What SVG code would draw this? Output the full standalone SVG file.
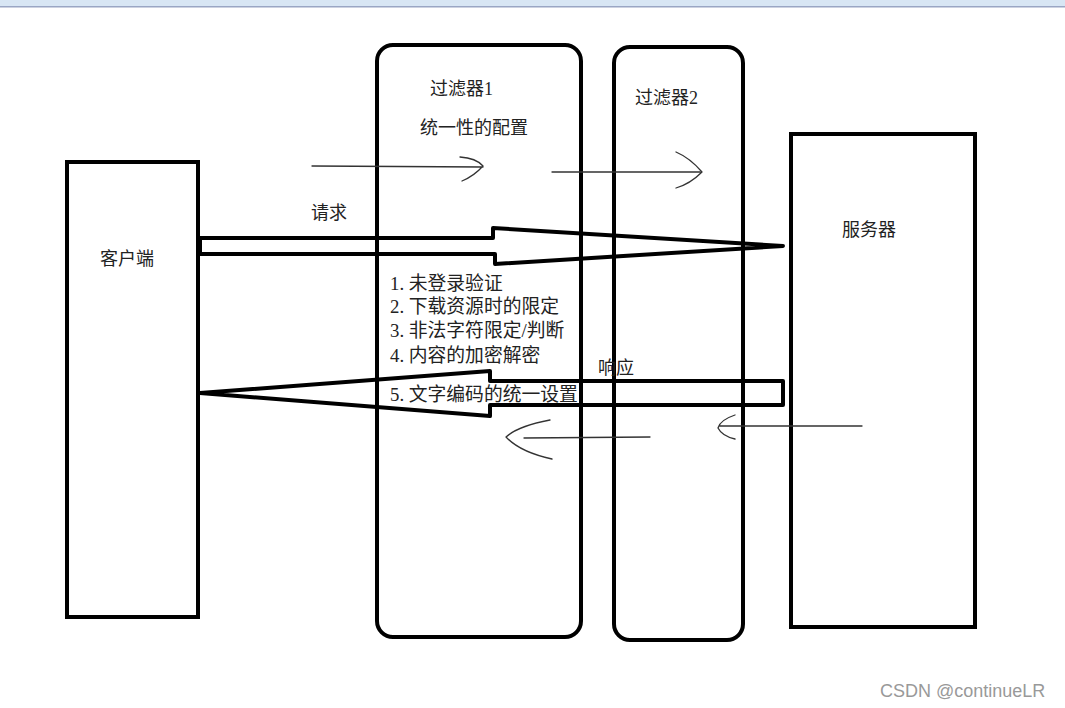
<svg xmlns="http://www.w3.org/2000/svg" width="1065" height="708" viewBox="0 0 1065 708">
<style>
.box{fill:none;stroke:#000;stroke-width:4}
.big{fill:none;stroke:#000;stroke-width:4;stroke-linejoin:round}
.thin{fill:none;stroke:#333;stroke-width:1.3;stroke-linecap:round;stroke-linejoin:round}
.t{font-family:"Liberation Serif","Noto Sans CJK SC",serif;font-size:18px;fill:#222}
.l{font-size:18.8px}
.wm{font-family:"Liberation Sans","Noto Sans",sans-serif;font-size:18px;fill:#999}
</style>
<rect x="0" y="0" width="1065" height="6" fill="#d8e6f4"/>
<rect x="0" y="6" width="1065" height="1.5" fill="#9aa6c4"/>
<g id="client"><rect class="box" x="67" y="162" width="131" height="455"/><text class="t" x="100" y="265">客户端</text></g>
<g id="filter1"><rect class="box" x="377" y="45" width="204" height="592" rx="16"/><text class="t" x="430" y="95">过滤器1</text><text class="t" x="420" y="134">统一性的配置</text>
<text class="t l" x="390" y="290">1. 未登录验证</text><text class="t l" x="390" y="313">2. 下载资源时的限定</text><text class="t l" x="390" y="337">3. 非法字符限定/判断</text><text class="t l" x="390" y="362">4. 内容的加密解密</text></g>
<g id="filter2"><rect class="box" x="614" y="47" width="129" height="593" rx="16"/><text class="t" x="635" y="104">过滤器2</text></g>
<g id="server"><rect class="box" x="791" y="134" width="184" height="493"/><text class="t" x="842" y="236">服务器</text></g>
<g id="connectors">
<path class="big" d="M200 238 L493 238 L493 228 L783 246 L495 264 L495 254 L200 254 Z"/>
<path class="big" d="M783 381 L490 381 L490 371 L200 393 L490 416 L490 405 L783 405 Z"/>
<path class="thin" d="M312 166 L483 167 M460 157 Q476 158 483 166 Q474 176 462 181"/>
<path class="thin" d="M552 172 L700 172 M676 152 Q690 158 702 172 Q690 184 676 188"/>
<path class="thin" d="M650 437 L524 438 M550 420 Q518 426 506 437 Q520 452 552 459"/>
<path class="thin" d="M862 426 L720 426 M735 415 Q720 420 718 428 Q722 436 735 439"/>
</g>
<text class="t" x="311" y="219">请求</text>
<text class="t" x="598" y="374">响应</text>
<text class="t l" x="390" y="401">5. 文字编码的统一设置</text>
<text class="wm" x="880" y="697">CSDN @continueLR</text>
</svg>
